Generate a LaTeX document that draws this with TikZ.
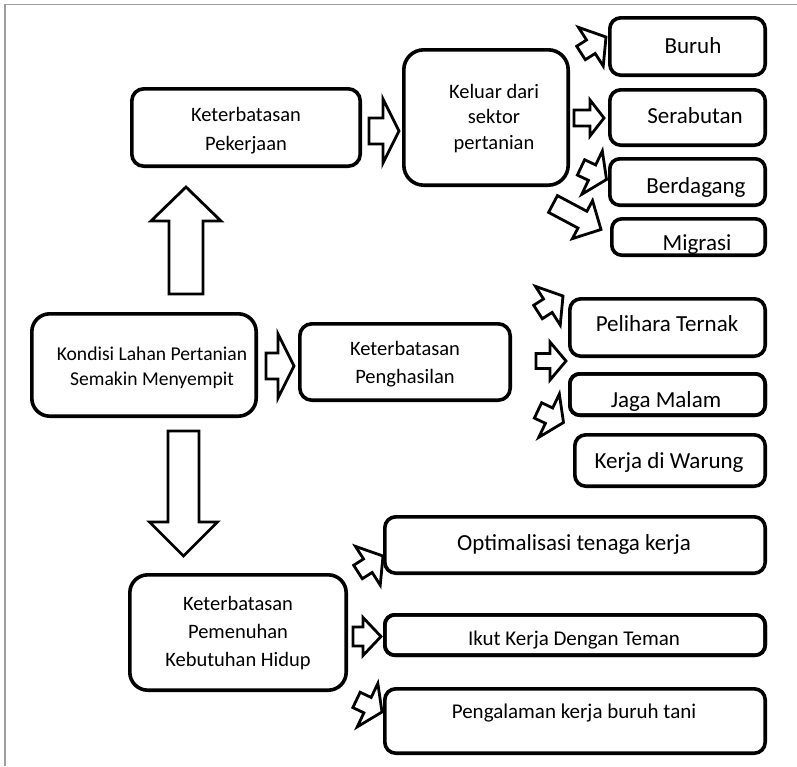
\documentclass[tikz,border=0pt]{standalone}
\usepackage{fontspec}
\setmainfont{Carlito}
\usetikzlibrary{calc}

\definecolor{framegray}{gray}{0.62}

% several centred lines whose baseline is the first line's baseline
\newcommand{\linestack}[1]{\begin{tabular}[t]{@{}c@{}}#1\end{tabular}}

% outlined block arrow: name, tail coordinate, tip coordinate,
% head length, shaft half width, head half width (all in pt)
\newcommand{\blockarrow}[6]{%
  \coordinate (#1n) at ($(#3)!#4pt!(#2)$);
  \draw[barrowline]
    ($(#2)!#5pt!90:(#3)$) -- ($(#1n)!#5pt!90:(#3)$) -- ($(#1n)!#6pt!90:(#3)$)
    -- (#3)
    -- ($(#1n)!#6pt!-90:(#3)$) -- ($(#1n)!#5pt!-90:(#3)$) -- ($(#2)!#5pt!-90:(#3)$)
    -- cycle;
}

\tikzset{
  box/.style={draw=black, line width=3.6pt, inner sep=0pt, rounded corners=#1},
  box/.default=12pt,
  txt/.style={anchor=base, inner sep=0pt, text=black},
  small/.style={font=\fontsize{20.5}{#1}\selectfont},
  large/.style={font=\fontsize{23}{28}\selectfont},
  mid/.style={font=\fontsize{21}{26}\selectfont},
  barrowline/.style={draw=black, line width=2.8pt, fill=white, line join=miter},
  framerule/.style={draw=framegray, line width=1.2pt},
}

\begin{document}
\begin{tikzpicture}[x=1pt,y=1pt]
  \fill[white] (0,0) rectangle (797,-766);
  \useasboundingbox (0,0) rectangle (797,-766);

  % page frame
  \draw[framerule] (5,-766) -- (5,-4.5) -- (797,-4.5);

  % ---- boxes ----
  \node[box,      minimum width=228.4pt, minimum height=77.4pt]  (kpek)     at (246,-127.5) {};
  \node[box=20pt, minimum width=164.4pt, minimum height=135.4pt] (keluar)   at (486,-117.5) {};
  \node[box=11pt, minimum width=155.4pt, minimum height=57.4pt]  (buruh)    at (687.5,-46.5) {};
  \node[box=11pt, minimum width=155.4pt, minimum height=55.4pt]  (serab)    at (687.5,-117.5) {};
  \node[box=10pt, minimum width=155.4pt, minimum height=46.4pt]  (berdag)   at (687.5,-182) {};
  \node[box=10pt, minimum width=153.4pt, minimum height=36.4pt]  (migrasi)  at (688.5,-237) {};
  \node[box=18pt, minimum width=224.4pt, minimum height=102.4pt] (kondisi)  at (144,-365) {};
  \node[box,      minimum width=210.4pt, minimum height=76.4pt]  (pengh)    at (405,-362) {};
  \node[box=11pt, minimum width=195.4pt, minimum height=57.4pt]  (pelihara) at (667.5,-327.5) {};
  \node[box=10pt, minimum width=195.4pt, minimum height=41.4pt]  (jaga)     at (667.5,-394.5) {};
  \node[box=11pt, minimum width=190.4pt, minimum height=51.4pt]  (warung)   at (670,-460.5) {};
  \node[box=18pt, minimum width=216.4pt, minimum height=115.4pt] (pemen)    at (238,-632.5) {};
  \node[box=11pt, minimum width=380.4pt, minimum height=56.4pt]  (optim)    at (575,-545) {};
  \node[box=10pt, minimum width=380.4pt, minimum height=40.4pt]  (ikut)     at (575,-635) {};
  \node[box=11pt, minimum width=380.4pt, minimum height=64.4pt]  (pengal)   at (575,-721) {};

  % ---- texts ----
  \node[txt, small=29]   (kpekt)    at (246,-121.7) {\linestack{Keterbatasan\\Pekerjaan}};
  \node[txt, small=25.5] (keluart)  at (494,-98.3)  {\linestack{Keluar dari\\sektor\\pertanian}};
  \node[txt, font=\fontsize{19.6}{25}\selectfont] (kondisit) at (152,-360)
        {\linestack{Kondisi Lahan Pertanian\\Semakin Menyempit}};
  \node[txt, small=27.6] (pengt)    at (405,-355.7) {\linestack{Keterbatasan\\Penghasilan}};
  \node[txt, small=28]   (pement)   at (238,-610)   {\linestack{Keterbatasan\\Pemenuhan\\Kebutuhan Hidup}};

  \node[txt, large] (buruht)    at (693,-53.3)  {Buruh};
  \node[txt, large] (serabt)    at (695,-123.3) {Serabutan};
  \node[txt, large] (berdagt)   at (696,-193.3) {Berdagang};
  \node[txt, large] (migrasit)  at (697,-250)   {Migrasi};
  \node[txt, large] (peliharat) at (667,-331.7) {Pelihara Ternak};
  \node[txt, large] (jagat)     at (666,-407.3) {Jaga Malam};
  \node[txt, large] (warungt)   at (669,-468.3) {Kerja di Warung};
  \node[txt, large] (optimt)    at (574,-550)   {Optimalisasi tenaga kerja};
  \node[txt, mid]   (ikutt)     at (574,-645.7) {Ikut Kerja Dengan Teman};
  \node[txt, mid]   (pengalt)   at (574,-718.3) {Pengalaman kerja buruh tani};

  % redraw the thin boxes so their lower border lies over the descenders
  \node[box=10pt, minimum width=195.4pt, minimum height=41.4pt] (jagaedge) at (jaga) {};
  \node[box=10pt, minimum width=380.4pt, minimum height=40.4pt] (ikutedge) at (ikut) {};

  % ---- connector end points ----
  \coordinate (upT)  at (186,-294);   \coordinate (upP)  at (186,-187);
  \coordinate (dnT)  at (183.5,-431); \coordinate (dnP)  at (183.5,-556);
  \coordinate (r1T)  at (369,-131);   \coordinate (r1P)  at (399,-131);
  \coordinate (r2T)  at (266,-366);   \coordinate (r2P)  at (294,-366);
  \coordinate (a1T)  at (581,-53);    \coordinate (a1P)  at (606,-37);
  \coordinate (a2T)  at (574,-118);   \coordinate (a2P)  at (604,-118);
  \coordinate (a3T)  at (581,-167.4); \coordinate (a3P)  at (606.5,-179.5);
  \coordinate (a4T)  at (553,-204);   \coordinate (a4P)  at (601,-229.5);
  \coordinate (b1T)  at (538,-312);   \coordinate (b1P)  at (563,-296);
  \coordinate (b2T)  at (536,-361);   \coordinate (b2P)  at (566,-361);
  \coordinate (b3T)  at (538,-410.4); \coordinate (b3P)  at (563.5,-422.5);
  \coordinate (c1T)  at (358,-572);   \coordinate (c1P)  at (383,-556);
  \coordinate (c2T)  at (353,-636.5); \coordinate (c2P)  at (381,-636.5);
  \coordinate (c3T)  at (356.5,-699.9); \coordinate (c3P) at (382,-712);

  % ---- block arrows ----
  \blockarrow{up}{upT}{upP}{34}{17}{35}
  \blockarrow{dn}{dnT}{dnP}{34}{15.5}{34}
  \blockarrow{r1}{r1T}{r1P}{16}{13}{32}
  \blockarrow{r2}{r2T}{r2P}{16}{13}{32}
  \blockarrow{a1}{a1T}{a1P}{18}{8}{23}
  \blockarrow{a2}{a2T}{a2P}{14}{8}{18}
  \blockarrow{a3}{a3T}{a3P}{16}{8.5}{24}
  \blockarrow{a4}{a4T}{a4P}{21}{9.5}{21.5}
  \blockarrow{b1}{b1T}{b1P}{18}{8}{23}
  \blockarrow{b2}{b2T}{b2P}{16}{7.5}{19}
  \blockarrow{b3}{b3T}{b3P}{16}{8.5}{24}
  \blockarrow{c1}{c1T}{c1P}{18}{8}{23}
  \blockarrow{c2}{c2T}{c2P}{18}{9.5}{19}
  \blockarrow{c3}{c3T}{c3P}{16}{8.5}{24}
\end{tikzpicture}
\end{document}
